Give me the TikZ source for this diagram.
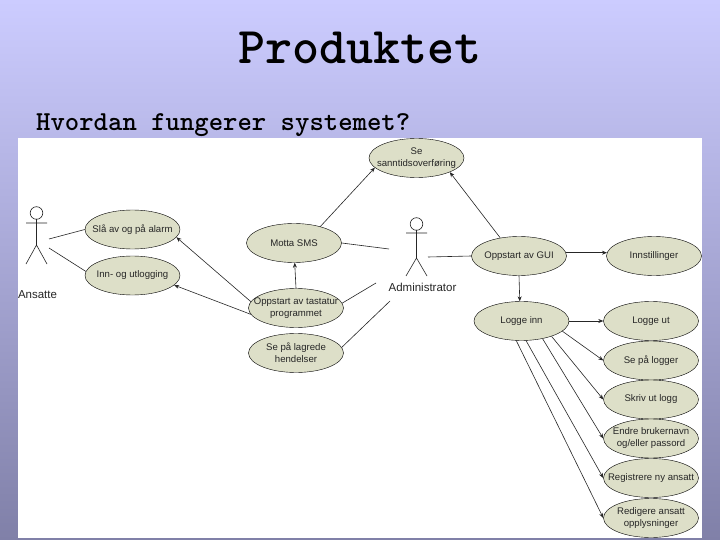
\documentclass[tikz,border=0pt]{standalone}
\usepackage{fontspec}
\setsansfont{Liberation Sans}
\usetikzlibrary{shapes.geometric,arrows.meta,positioning,calc}
\definecolor{slideTop}{HTML}{CCCCFF}
\definecolor{slideBottom}{HTML}{8080A8}
\definecolor{caseFill}{HTML}{DDDFC8}
\tikzset{
  usecase/.style={ellipse, draw, fill=caseFill, minimum width=95pt, minimum height=39pt, inner xsep=-10pt, inner ysep=0pt, align=center, font=\sffamily\fontsize{9.6}{12}\selectfont, text=black!85},
  actorbox/.style={inner sep=0pt, minimum width=22pt, minimum height=58pt},
  actorname/.style={inner sep=0pt, font=\sffamily\fontsize{11.5}{12}\selectfont, text=black!85},
  link/.style={line width=0.6pt, black!85},
  arrow/.style={link, -{Stealth[length=5pt,width=4pt]}}
}
\begin{document}
\begin{tikzpicture}[x=1pt, y=-1pt]
  \shade[top color=slideTop, bottom color=slideBottom] (0,0) rectangle (720,540);
  \useasboundingbox (0,0) rectangle (720,540);
  \fill[white] (18,138) rectangle (702,538);
  \node[font=\ttfamily\bfseries\fontsize{51.5}{51.5}\selectfont, inner sep=0pt] (title) at (360,48) {Produktet};
  \node[font=\ttfamily\bfseries\fontsize{27.4}{27.4}\selectfont, inner sep=0pt, anchor=base west] (question) at (36,131) {Hvordan fungerer systemet?};
  % use cases, left part
  \node[usecase] (alarm) at (132.5,229.5) {Slå av og på alarm};
  \node[usecase] (innut) at (132.5,275.5) {Inn- og utlogging};
  \node[usecase] (sms) at (294,243) {Motta SMS};
  \node[usecase] (tastatur) at (296,308) {Oppstart av tastatur\\programmet};
  \node[usecase] (hendelser) at (296,353) {Se på lagrede\\hendelser};
  \node[usecase] (sanntid) at (416.5,158) {Se\\sanntidsoverføring};
  % use cases, right part
  \node[usecase] (gui) at (519,256) {Oppstart av GUI};
  \node[usecase] (innst) at (654,256) {Innstillinger};
  \node[usecase] (inn) at (521.5,321) {Logge inn};
  \node[usecase] (ut) at (651,321) {Logge ut};
  \node[usecase] (logger) at (651,360.5) {Se på logger};
  \node[usecase] (skriv) at (651,399.5) {Skriv ut logg};
  \node[usecase] (endre) at (651,438.5) {Endre brukernavn\\og/eller passord};
  \node[usecase] (ny) at (651,478) {Registrere ny ansatt};
  \node[usecase] (redigere) at (651,518) {Redigere ansatt\\opplysninger};
  % actors
  \node[actorbox] (ansatte) at (36.5,235) {};
  \draw[link] (36.5,213) circle (6.3pt);
  \draw[link] (26,223) -- (47,223) (36.5,219) -- (36.5,245) -- (26,264) (36.5,245) -- (47,264);
  \node[actorname, below=26pt of ansatte, xshift=1pt] (ansattename) {Ansatte};
  \node[actorbox] (admin) at (416.5,247) {};
  \draw[link] (416.5,224) circle (6.3pt);
  \draw[link] (406,233) -- (427,233) (416.5,230) -- (416.5,258) -- (406,276) (416.5,258) -- (427,276);
  \node[actorname, below=7pt of admin, xshift=6pt] (adminname) {Administrator};
  % free ends beside the actors
  \coordinate (a1) at (49,239);
  \coordinate (a2) at (49,248);
  \coordinate (b1) at (389,249);
  \coordinate (b2) at (376,283);
  \coordinate (b3) at (390,301);
  \coordinate (b4) at (428,257);
  \draw[link] (a1) -- (alarm.west);
  \draw[link] (a2) -- (innut.175);
  \draw[link] (sms.east) -- (b1);
  \draw[link] (tastatur.6) -- (b2);
  \draw[link] (hendelser.7) -- (b3);
  \draw[link] (b4) -- (gui.west);
  \draw[arrow] (sms.32) -- (sanntid.-167);
  \draw[arrow] (gui.136) -- (sanntid.-23);
  \draw[arrow] (tastatur.north) -- (sms.-88);
  \draw[arrow] (tastatur.172) -- (alarm.-10);
  \draw[arrow] (tastatur.188) -- (innut.-13);
  \draw[arrow] (gui.4) -- (innst.176);
  \draw[arrow] (gui.south) -- (inn.95);
  \draw[arrow] (inn.east) -- (ut.west);
  \draw[arrow] (inn.-14) -- (logger.west);
  \draw[arrow] (inn.-27) -- (skriv.west);
  \draw[arrow] (inn.-40) -- (endre.west);
  \draw[arrow] (inn.-77) -- (ny.west);
  \draw[arrow] (inn.-105) -- (redigere.west);
\end{tikzpicture}
\end{document}
